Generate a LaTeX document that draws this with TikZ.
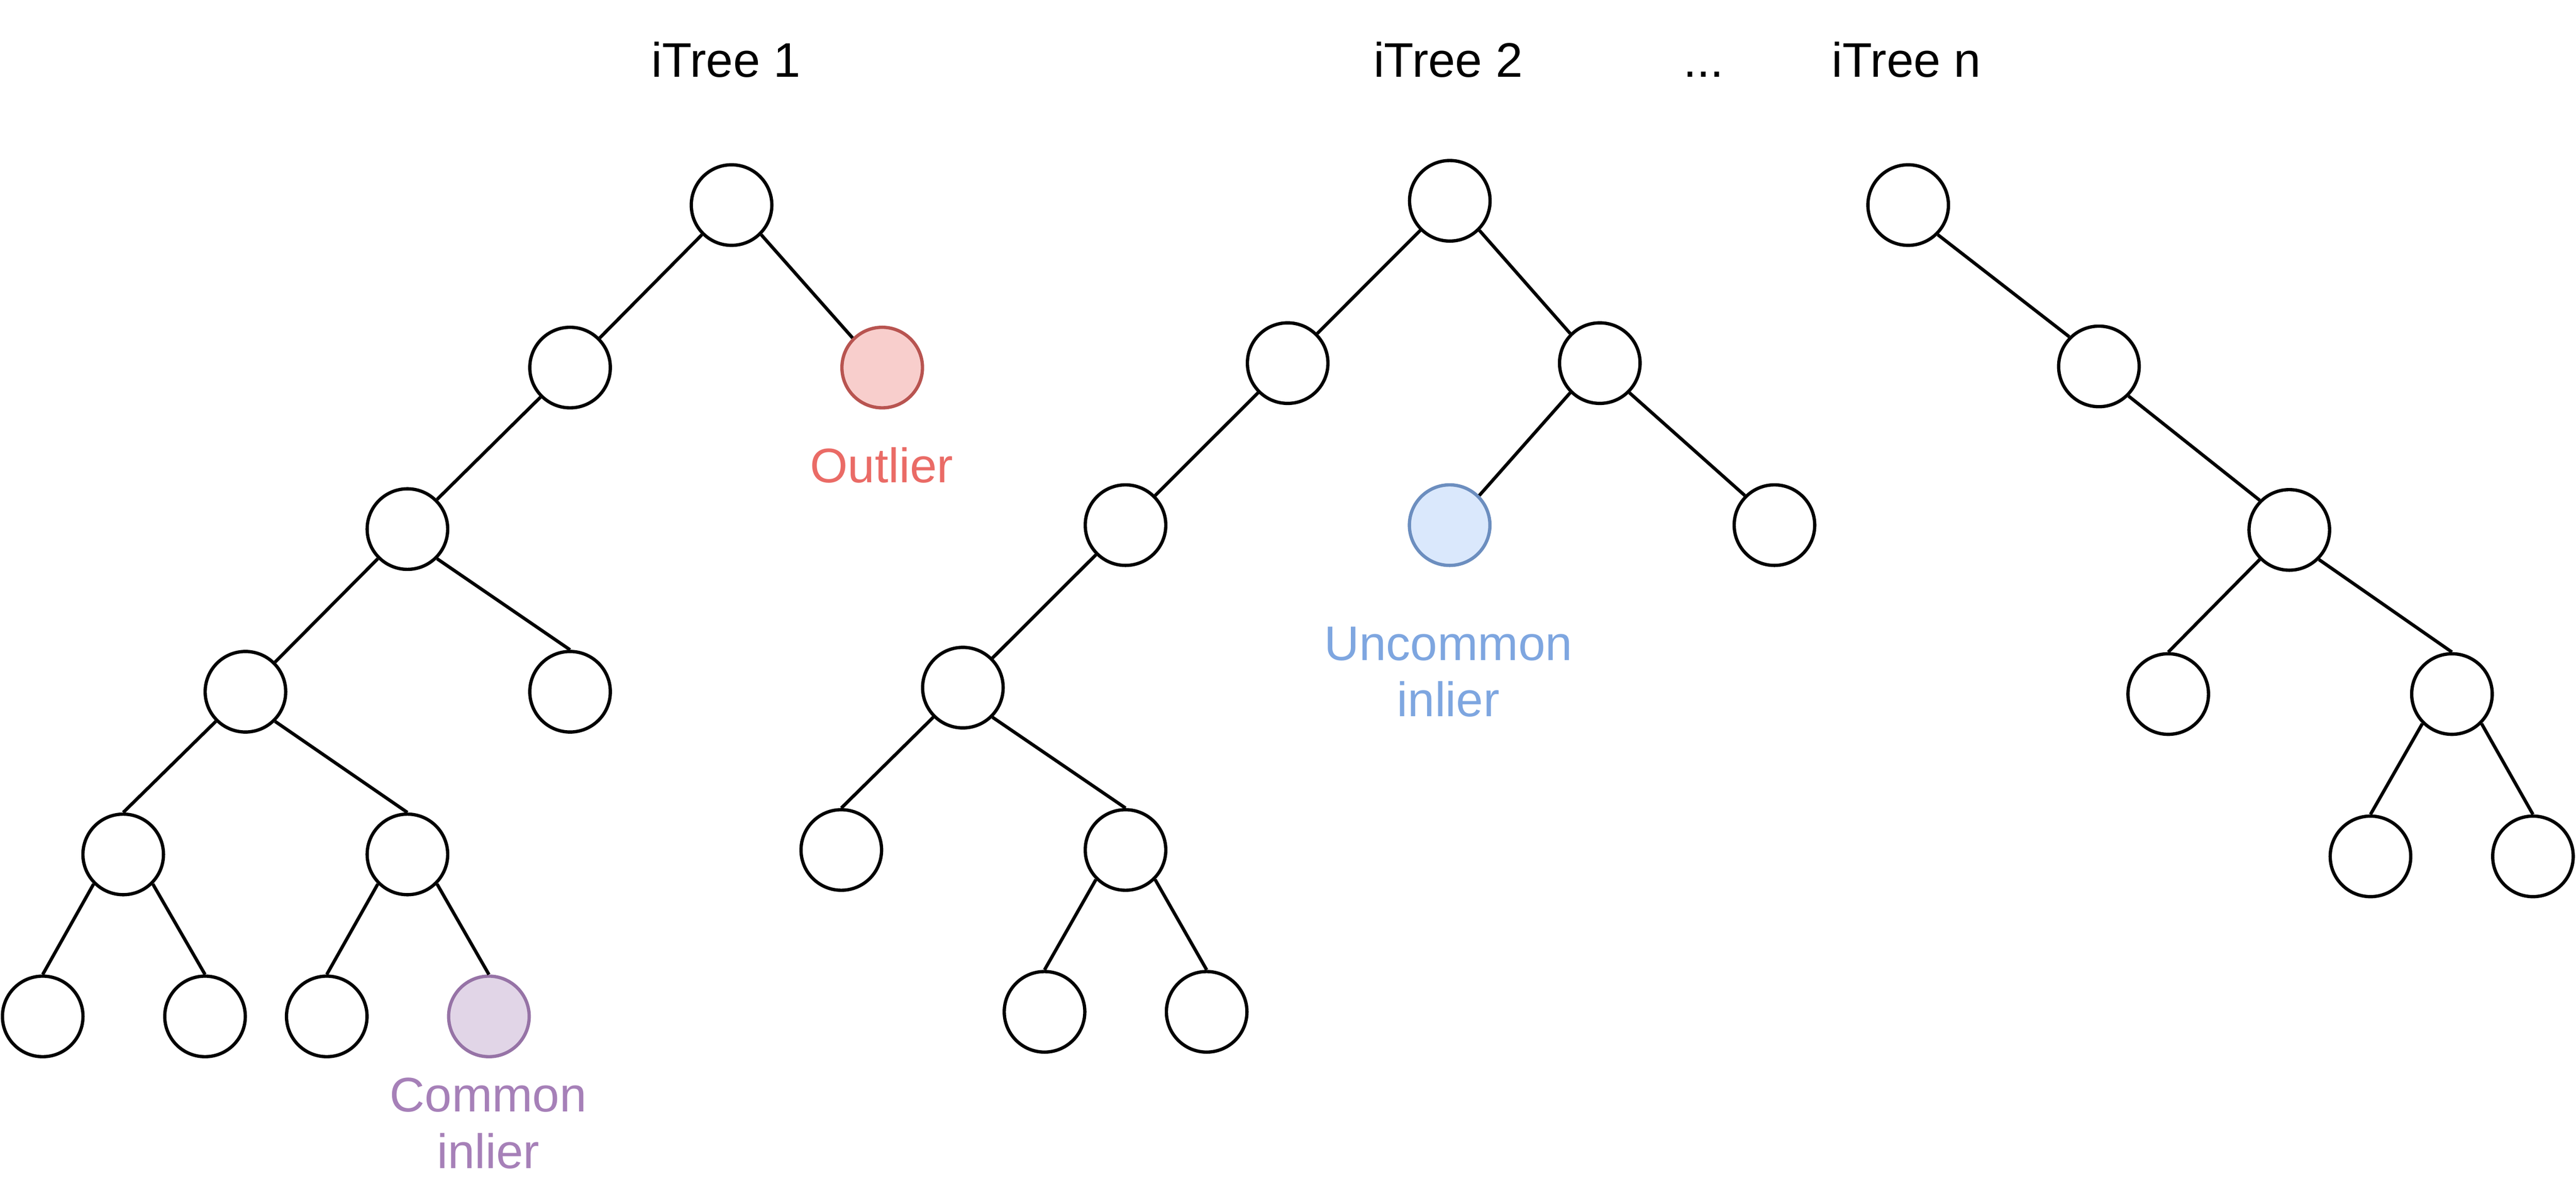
\documentclass[tikz,border=0pt]{standalone}
\usepackage{fontspec}
\setmainfont{Liberation Sans}
\usetikzlibrary{positioning}

\definecolor{outfill}{HTML}{F8CECC}
\definecolor{outdraw}{HTML}{B85450}
\definecolor{outtext}{HTML}{EA6B66}
\definecolor{uncfill}{HTML}{DAE8FC}
\definecolor{uncdraw}{HTML}{6C8EBF}
\definecolor{unctext}{HTML}{7EA6E0}
\definecolor{comfill}{HTML}{E1D5E7}
\definecolor{comdraw}{HTML}{9673A6}
\definecolor{comtext}{HTML}{A680B8}

\begin{document}
\begin{tikzpicture}[x=0.01cm, y=-0.01cm,
      vertex/.style={circle, draw=black, line width=0.57pt, fill=white, minimum size=0.49cm, inner sep=0},
      outlier/.style={vertex, draw=outdraw, fill=outfill},
      uncommon/.style={vertex, draw=uncdraw, fill=uncfill},
      common/.style={vertex, draw=comdraw, fill=comfill},
      edge/.style={line width=0.57pt},
      caption/.style={anchor=base, inner sep=0, align=center, font=\fontsize{8.4}{9.8}\selectfont}
    ]
    \useasboundingbox (0,0) rectangle (1568,718.56);

    % titles
    \node [caption] (t1) at (442, 46.9) {iTree 1};
    \node [caption] (t2) at (881.5, 46.9) {iTree 2};
    \node [caption] (dots) at (1037, 46.9) {...};
    \node [caption] (tn) at (1160.5, 46.9) {iTree n};

    % iTree 1
    \node [vertex] (0) at (445.3, 124.8) {};
    \node [vertex] (1) at (347, 223.7) {};
    \node [outlier] (2) at (537, 223.7) {};
    \node [vertex] (3) at (248, 322) {};
    \node [vertex] (4) at (149.4, 421) {};
    \node [vertex] (5) at (347, 421) {};
    \node [vertex] (6) at (75, 520) {};
    \node [vertex] (7) at (248, 520) {};
    \node [vertex] (8) at (26, 618.6) {};
    \node [vertex] (9) at (124.8, 618.6) {};
    \node [vertex] (10) at (198.9, 618.6) {};
    \node [common] (11) at (297.6, 618.6) {};
    \draw[edge] (0.south west) to (1.north east);
    \draw[edge] (0.south east) to (2.north west);
    \draw[edge] (1.south west) to (3.north east);
    \draw[edge] (3.south west) to (4.north east);
    \draw[edge] (3.south east) to (5.north);
    \draw[edge] (4.south west) to (6.north);
    \draw[edge] (4.south east) to (7.north);
    \draw[edge] (6.south west) to (8.north);
    \draw[edge] (6.south east) to (9.north);
    \draw[edge] (7.south west) to (10.north);
    \draw[edge] (7.south east) to (11.north);
    \node [caption, text=outtext] (out) at (536.6, 293.8) {Outlier};
    \node [caption, text=comtext] (com) at (297.2, 711) {Common\\inlier};

    % iTree 2
    \node [vertex] (12) at (882.5, 122.2) {};
    \node [vertex] (13) at (783.8, 221) {};
    \node [vertex] (14) at (973.8, 221) {};
    \node [vertex] (15) at (685.1, 319.6) {};
    \node [uncommon] (16) at (882.4, 319.6) {};
    \node [vertex] (17) at (1080.1, 319.6) {};
    \node [vertex] (18) at (586.1, 418.5) {};
    \node [vertex] (19) at (512.1, 517.3) {};
    \node [vertex] (20) at (685.1, 517.3) {};
    \node [vertex] (21) at (635.8, 615.8) {};
    \node [vertex] (22) at (734.5, 615.8) {};
    \draw[edge] (12.south west) to (13.north east);
    \draw[edge] (12.south east) to (14.north west);
    \draw[edge] (13.south west) to (15.north east);
    \draw[edge] (14.south west) to (16.north east);
    \draw[edge] (14.south east) to (17.north west);
    \draw[edge] (15.south west) to (18.north east);
    \draw[edge] (18.south west) to (19.north);
    \draw[edge] (18.south east) to (20.north);
    \draw[edge] (20.south west) to (21.north);
    \draw[edge] (20.south east) to (22.north);
    \node [caption, text=unctext] (unc) at (881.6, 436.2) {Uncommon\\inlier};

    % iTree n
    \node [vertex] (23) at (1161.5, 124.8) {};
    \node [vertex] (24) at (1277.6, 223) {};
    \node [vertex] (25) at (1393.5, 322.5) {};
    \node [vertex] (26) at (1319.8, 422.4) {};
    \node [vertex] (27) at (1492.5, 422.4) {};
    \node [vertex] (28) at (1442.9, 521.2) {};
    \node [vertex] (29) at (1541.8, 521.2) {};
    \draw[edge] (23.south east) to (24.north west);
    \draw[edge] (24.south east) to (25.north west);
    \draw[edge] (25.south west) to (26.north);
    \draw[edge] (25.south east) to (27.north);
    \draw[edge] (27.south west) to (28.north);
    \draw[edge] (27.south east) to (29.north);

\end{tikzpicture}
\end{document}
